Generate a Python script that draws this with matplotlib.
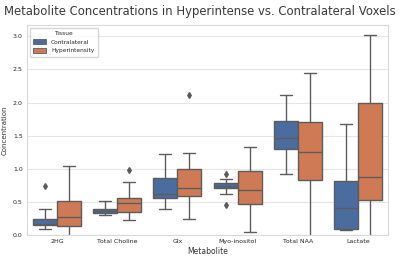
import numpy as np
import matplotlib
matplotlib.use("Agg")
import matplotlib.pyplot as plt
import matplotlib.patches as mpatches
import seaborn as sns

sns.set_style("whitegrid")

metabolites = ["2HG", "Total Choline", "Glx", "Myo-inositol", "Total NAA", "Lactate"]
tissues = ["Contralateral", "Hyperintensity"]

# box statistics: whislo, q1, med, q3, whishi
contra_whislo = [0.096, 0.30, 0.39, 0.615, 0.918, 0.07]
contra_q1 = [0.145, 0.33, 0.555, 0.71, 1.30, 0.096]
contra_med = [0.165, 0.37, 0.625, 0.746, 1.467, 0.408]
contra_q3 = [0.247, 0.40, 0.857, 0.78, 1.715, 0.822]
contra_whishi = [0.40, 0.514, 1.23, 0.84, 2.11, 1.674]
contra_fliers = [[0.74], [], [], [0.923, 0.45], [], []]

hyper_whislo = [-0.05, 0.22, 0.24, 0.05, -0.1, -0.1]
hyper_q1 = [0.136, 0.353, 0.595, 0.474, 0.832, 0.524]
hyper_med = [0.267, 0.48, 0.716, 0.676, 1.25, 0.877]
hyper_q3 = [0.514, 0.565, 0.99, 0.973, 1.70, 1.987]
hyper_whishi = [1.044, 0.80, 1.24, 1.336, 2.45, 3.016]
hyper_fliers = [[], [0.98], [2.12], [], [], []]

colors = ["#4a6c9e", "#cf7a55"]
line_col = "#5c5c5c"

fig = plt.figure(figsize=(4, 2.58), dpi=100)
ax = fig.add_axes([0.0675, 0.089, 0.9025, 0.814])

series = [
    (contra_whislo, contra_q1, contra_med, contra_q3, contra_whishi, contra_fliers),
    (hyper_whislo, hyper_q1, hyper_med, hyper_q3, hyper_whishi, hyper_fliers),
]
x = np.arange(len(metabolites))
for k, (lo, q1, med, q3, hi, fl) in enumerate(series):
    stats = []
    for i in range(len(metabolites)):
        stats.append(dict(whislo=lo[i], q1=q1[i], med=med[i], q3=q3[i],
                          whishi=hi[i], fliers=fl[i]))
    pos = x - 0.2 + 0.4 * k
    ax.bxp(stats, positions=pos, widths=0.4, patch_artist=True,
           boxprops=dict(facecolor=colors[k], edgecolor=line_col, linewidth=1.0),
           medianprops=dict(color=line_col, linewidth=1.0),
           whiskerprops=dict(color=line_col, linewidth=1.0),
           capprops=dict(color=line_col, linewidth=1.0),
           flierprops=dict(marker="d", markersize=3, markerfacecolor=line_col,
                           markeredgecolor=line_col))

ax.set_xlim(-0.5, len(metabolites) - 0.5)
ax.set_ylim(0, 3.17)
ax.set_xticks(x)
ax.set_xticklabels(metabolites, fontsize=4.5)
ax.set_yticks([0, 0.5, 1.0, 1.5, 2.0, 2.5, 3.0])
ax.set_yticklabels(["0.0", "0.5", "1.0", "1.5", "2.0", "2.5", "3.0"], fontsize=4.5)
ax.tick_params(axis="both", length=0, pad=3)
ax.xaxis.grid(False)
ax.yaxis.grid(True, color="#e6e6e6", linewidth=0.8)
for s in ax.spines.values():
    s.set_color("#d9d9d9")
    s.set_linewidth(0.8)

ax.set_xlabel("Metabolite", fontsize=5.5, color="#333333", labelpad=2)
ax.set_ylabel("Concentration", fontsize=5, color="#333333", labelpad=4)
fig.suptitle("Metabolite Concentrations in Hyperintense vs. Contralateral Voxels",
             fontsize=8.4, color="#3a3a3a", y=0.98)

handles = [mpatches.Patch(facecolor=colors[i], edgecolor=line_col, linewidth=0.6,
                          label=tissues[i]) for i in range(2)]
leg = ax.legend(handles=handles, title="Tissue", loc="upper left", fontsize=4.2,
                title_fontsize=4.2, frameon=True, borderpad=0.6,
                handlelength=2.2, handleheight=0.9)
leg.get_frame().set_edgecolor("#cccccc")

fig.savefig("out.png", dpi=100)
